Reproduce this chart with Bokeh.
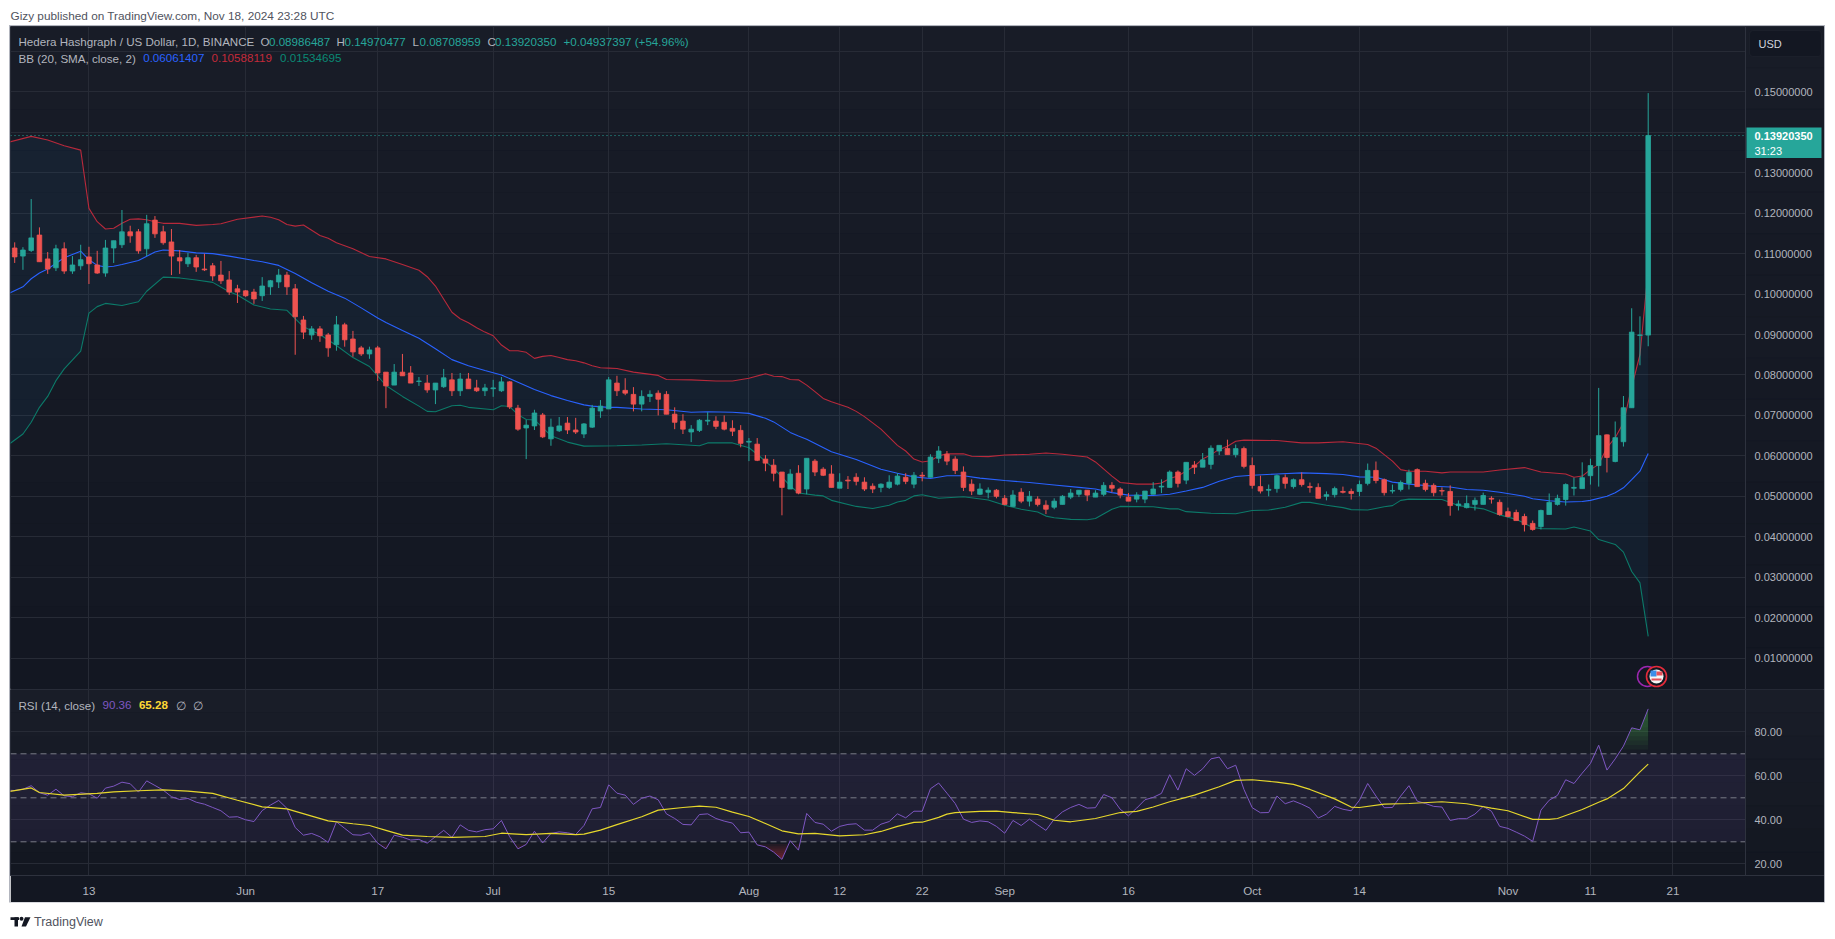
from bokeh.plotting import figure
from bokeh.layouts import column
from bokeh.models import (Range1d, FixedTicker, Label, BoxAnnotation, LinearAxis, NumeralTickFormatter)
from bokeh.embed import file_html
from bokeh.resources import INLINE
import numpy as np

# ---------- DATA (prices in thousandths of a dollar) ----------
high = [112.8,111.6,123.5,116.5,110.4,112.2,112.8,109.4,112.2,111.7,110.7,113.4,113.2,120.8,116.9,116.1,119.6,119.3,116.9,116.1,110.9,110.2,109.7,110.0,107.7,108.2,105.7,102.3,101.0,101.3,104.2,103.5,106.2,105.5,102.5,94.6,92.1,92.1,90.4,94.6,92.9,90.9,87.2,87.0,87.2,80.7,82.7,85.2,82.2,79.5,80.0,78.0,81.5,80.5,80.5,80.5,78.8,77.8,78.8,79.5,78.5,72.6,68.9,71.4,70.6,69.2,69.6,69.6,69.4,68.1,72.6,73.8,79.5,79.8,
        79.2,77.0,76.2,76.2,76.2,76.0,72.0,70.3,67.6,69.1,70.8,69.8,70.0,68.8,67.6,64.4,64.4,60.2,59.2,56.0,56.7,57.7,59.4,59.2,57.2,57.7,55.7,55.0,55.7,54.7,53.2,53.2,55.2,55.7,55.7,56.0,56.0,60.4,62.4,61.2,59.9,57.4,54.2,53.2,52.2,51.8,50.3,51.5,52.0,51.3,50.0,49.0,49.5,50.3,51.8,51.5,51.5,51.5,53.5,53.5,52.2,50.8,51.0,51.3,53.5,54.2,56.4,56.4,58.4,58.7,60.7,62.6,62.6,
        64.0,62.8,62.3,59.6,55.1,52.9,55.4,55.4,54.4,55.9,53.4,53.2,51.2,52.4,52.4,51.9,53.9,58.1,58.6,54.4,52.9,53.9,56.6,56.9,54.1,53.2,52.2,52.7,49.0,50.2,49.7,50.9,50.0,49.2,47.2,46.7,45.7,44.0,46.7,50.7,50.4,53.2,54.6,58.4,59.3,76.8,65.3,68.5,74.8,96.5,94.5,149.7]
low = [107.7,106.0,110.4,108.0,105.0,105.7,105.0,105.0,106.0,102.5,105.0,104.3,107.7,111.4,112.7,110.0,109.4,113.9,112.2,104.7,105.0,106.7,105.5,105.7,103.3,102.5,99.8,97.8,99.3,97.6,98.3,99.8,101.5,99.8,85.0,88.9,88.7,88.2,84.5,86.0,87.0,84.5,84.7,84.0,78.5,71.8,77.5,79.8,78.0,77.3,75.6,72.8,76.8,74.8,74.8,76.6,75.8,74.8,74.6,75.8,71.6,66.2,59.2,66.4,64.4,62.5,65.9,65.4,65.4,64.4,66.9,69.4,71.6,74.8,
       75.0,71.0,71.0,73.3,70.0,70.3,66.6,65.4,63.4,65.9,67.6,66.6,66.3,64.9,62.1,58.7,58.7,56.2,53.7,45.3,51.8,50.5,50.5,55.0,55.0,52.2,52.0,51.8,52.7,51.3,50.8,51.0,51.8,52.7,53.0,52.0,53.7,54.7,58.2,57.7,55.5,51.3,50.3,50.3,49.5,49.5,47.8,47.5,48.3,47.5,47.5,45.6,46.8,48.0,49.3,49.8,48.8,49.8,50.0,51.0,49.5,48.8,48.5,48.3,50.5,50.8,52.2,52.2,53.0,55.5,57.2,56.7,60.2,
       60.3,59.6,56.9,51.9,50.7,50.0,50.9,51.9,51.9,52.4,50.9,49.5,49.0,49.7,50.7,49.2,50.0,52.7,53.2,50.2,50.7,51.2,51.7,52.4,51.2,50.0,50.2,45.2,46.5,47.0,46.5,48.0,48.2,45.2,44.8,44.0,41.3,41.5,41.8,45.5,47.7,47.7,50.2,51.9,52.9,52.4,55.9,58.4,62.3,71.9,82.4,87.1]
open_ = [111.4,109.4,110.8,114.6,108.7,106.5,111.2,105.7,107.0,109.2,107.2,105.2,111.4,112.2,115.4,115.4,111.2,118.3,115.4,112.9,109.0,107.5,109.0,106.2,107.0,104.7,103.5,101.3,100.8,100.5,99.6,101.8,103.0,104.7,101.3,93.6,89.9,91.4,89.9,87.5,92.4,88.9,86.7,85.2,86.7,80.7,77.5,80.7,80.5,78.4,78.0,76.3,77.1,78.8,76.1,79.0,76.8,76.1,76.6,76.1,78.3,71.8,66.9,67.4,70.1,64.2,66.2,68.1,66.4,65.4,67.1,71.1,71.6,78.0,
         76.2,75.2,72.8,74.7,75.5,75.2,70.3,68.6,65.9,66.3,68.6,68.6,68.3,66.8,66.3,63.4,62.9,59.2,57.7,56.0,51.8,55.7,51.8,58.7,56.7,55.5,52.0,54.0,54.7,53.5,52.5,52.2,52.2,53.0,54.7,53.0,55.2,54.7,59.4,60.4,59.2,56.0,53.0,50.5,51.0,51.5,49.5,47.5,51.0,48.8,49.3,47.8,47.3,48.0,49.8,50.5,51.5,49.8,50.5,52.7,51.8,49.8,49.3,49.3,50.5,52.3,52.2,56.0,54.0,57.7,57.2,57.9,61.2,
         61.8,60.3,61.8,57.6,52.4,51.5,51.9,54.6,52.4,54.1,52.4,52.2,50.0,50.4,51.2,51.2,51.2,53.2,56.4,54.1,51.3,51.7,53.2,56.6,53.2,52.7,51.4,51.2,47.7,47.2,48.0,48.0,49.5,48.5,46.2,46.0,45.0,43.3,42.5,45.5,48.0,49.2,52.0,51.9,55.1,57.6,65.2,58.6,63.5,71.9,89.8,89.86]
close = [109.2,110.9,113.9,108.0,106.2,111.2,105.7,107.2,108.5,107.5,105.2,111.4,113.2,115.4,114.4,110.7,117.4,114.9,112.7,109.4,108.2,109.0,106.7,106.0,104.5,103.3,100.5,100.5,99.6,98.8,102.0,103.3,104.7,101.8,94.4,90.6,91.4,89.7,86.7,92.4,88.7,85.7,85.2,86.2,80.5,77.3,80.7,79.8,78.0,78.5,76.3,78.0,79.3,76.1,79.0,76.6,76.1,76.8,76.8,78.3,72.1,66.6,67.6,70.6,64.7,67.1,67.4,66.4,65.9,67.9,71.8,72.3,78.8,76.1,
         75.5,72.8,74.7,75.2,74.0,70.3,68.3,66.6,66.6,68.8,68.8,67.3,66.6,66.1,63.1,63.6,58.9,58.2,55.7,52.2,55.5,50.8,59.4,56.0,55.2,52.2,53.5,53.8,53.7,51.8,51.8,53.0,53.5,55.0,53.7,55.2,55.0,59.7,61.2,58.7,56.4,52.2,51.3,51.8,51.5,50.0,48.0,50.3,48.8,50.0,48.0,46.8,48.8,50.0,50.8,51.5,50.3,50.8,52.7,52.0,50.3,48.8,50.3,51.3,51.8,52.5,56.0,53.2,58.4,57.2,59.0,61.9,62.6,
         60.3,61.8,57.4,52.7,51.3,51.7,55.1,53.2,54.1,52.9,52.2,49.5,50.4,51.9,51.0,50.7,52.9,56.4,53.9,50.9,51.4,53.4,55.9,52.4,51.7,50.9,51.3,47.7,48.1,48.2,49.0,50.2,49.3,45.5,45.0,44.0,43.0,41.8,46.5,48.5,49.5,52.9,52.2,54.6,57.6,65.0,59.6,64.5,71.9,90.6,89.9,139.2]

upper_x = [-1,2,4,6,8,9,10,11,12,13,14,15,16,17,18,20,22,24,25,27,30,31,32,33,34,35,37,38,39,41,43,45,47,49,50,51,53,54,55,56,57,58,59,60,61,62,63,64,65,66,67,68,69,70,71,72,73,75,78,79,82,85,87,89,91,92,93,94,95,96,97,98,99,101,102,103,105,107,108,109,110,111,112,113,115,116,118,120,123,125,127,130,131,133,134,136,138,139,140,141,143,144,145,146,147,148,149,153,156,158,161,164,165,166,167,168,169,171,173,174,178,180,183,185,188,189,190,191,192,193,194,195,196,197,198]
upper_v = [137.4,139.0,138.1,136.7,135.6,121.2,117.9,116.1,116.3,117.5,118.5,118.6,118.4,117.9,117.5,117.5,117.0,117.2,117.4,118.5,119.3,119.0,118.4,117.2,116.8,117.1,114.5,113.8,112.7,111.2,109.3,108.7,107.3,105.9,104.3,102.0,95.5,93.9,92.9,91.7,90.6,89.7,87.4,86.0,86.0,85.6,84.1,84.6,84.8,84.3,83.8,83.5,83.0,82.3,81.8,81.7,81.6,80.7,79.9,78.9,78.8,78.5,78.5,79.2,80.3,79.7,79.6,78.9,78.8,77.5,75.9,74.2,73.4,72.0,71.0,69.7,66.6,62.6,61.2,59.2,58.5,58.8,60.0,60.5,60.5,59.9,59.8,60.2,60.4,60.7,60.4,59.7,58.5,55.0,53.4,53.0,53.0,53.3,54.4,55.0,57.5,59.2,60.3,61.6,62.4,63.6,63.9,63.8,63.2,63.2,63.5,62.8,61.9,60.3,58.7,56.6,56.2,56.2,55.8,56.0,56.0,56.5,57.1,56.0,55.5,54.7,55.0,56.6,57.9,62.0,64.5,68.2,77.0,85.0,105.9]
basis_x = [-1,1,2,3,4,6,8,9,10,11,12,13,15,17,18,20,22,24,26,29,30,32,34,36,38,40,42,44,45,47,49,51,53,55,57,59,61,63,65,67,69,70,72,73,76,79,82,84,87,89,91,92,94,95,96,99,102,105,107,109,111,113,115,117,120,123,126,129,131,133,135,138,140,142,144,146,148,150,153,156,159,161,163,165,167,169,172,174,176,178,180,183,184,186,188,190,191,193,194,195,196,197,198]
basis_v = [99.9,101.8,103.8,105.2,106.2,109.0,110.6,108.5,107.1,106.7,106.9,107.3,108.3,110.4,110.9,110.7,110.2,110.0,109.4,108.3,108.0,107.1,105.1,102.8,100.7,99.0,96.6,94.1,93.0,91.0,89.1,86.5,83.8,82.3,81.1,80.0,78.2,76.4,74.9,73.7,72.6,72.3,72.0,72.0,71.6,71.4,70.8,70.9,70.8,70.5,69.3,68.4,65.8,64.9,64.1,61.0,59.1,56.7,55.7,54.8,54.4,55.1,55.1,54.5,53.9,53.4,52.8,52.2,51.8,50.9,50.3,50.2,50.5,51.3,52.2,53.7,54.9,55.2,55.5,55.8,55.6,55.4,54.8,54.7,53.5,53.0,52.5,52.3,51.7,51.5,51.0,50.0,49.4,48.9,48.6,48.7,49.0,50.0,50.9,52.1,54.1,56.2,60.6]
lower_x = [-1,1,2,3,4,5,6,8,9,10,11,13,15,16,18,20,22,24,26,27,29,31,33,35,37,39,41,43,45,47,49,50,51,53,54,55,58,59,60,61,62,63,65,67,69,73,76,79,83,84,87,89,90,92,94,95,97,98,99,102,104,106,107,108,109,110,112,115,118,120,122,124,125,126,128,130,131,133,134,138,140,141,142,145,148,150,152,154,156,157,159,161,162,164,166,167,168,169,173,175,178,180,182,184,185,188,189,191,192,194,195,196,197,198]
lower_v = [62.4,65.4,68.3,72.0,74.7,78.6,81.5,85.9,95.3,96.9,97.7,97.2,98.1,100.7,104.2,104.0,103.5,102.9,100.6,99.8,97.3,96.3,96.0,91.9,90.0,87.3,84.3,82.1,77.4,74.7,72.3,71.0,70.9,72.4,72.5,72.0,71.4,72.4,72.2,70.2,69.0,68.9,65.0,63.4,62.4,62.5,62.7,63.0,62.5,63.2,63.2,62.0,60.4,56.9,52.6,50.8,50.3,50.1,49.0,47.5,47.0,47.8,48.6,49.0,50.1,50.4,49.5,49.9,49.1,47.8,46.8,46.1,45.1,44.7,44.3,44.2,44.5,46.8,47.5,47.4,46.9,46.9,46.2,45.8,45.7,46.5,46.6,47.3,48.5,48.5,47.8,47.2,46.7,46.6,47.4,47.7,49.0,49.3,49.2,47.7,46.9,45.4,44.3,42.3,42.0,41.9,42.4,41.4,39.3,38.1,36.2,31.4,28.6,15.35]

rsi_v = [53.5,53.3,53.9,55.5,52.3,51.2,53.9,50.9,50.5,52.3,51.8,49.8,54.4,55.3,57.1,56.4,52.6,57.7,55.6,53.5,50.5,49.2,49.7,48.0,47.1,45.6,44.1,41.2,41.4,40.0,39.2,44.2,46.7,48.8,45.2,36.5,33.0,33.8,32.3,29.7,39.1,36.1,33.2,33.0,34.1,29.4,26.8,33.0,32.1,30.8,31.1,29.4,32.3,35.2,32.0,37.7,35.2,34.5,35.5,35.9,39.7,32.3,26.8,28.8,34.8,29.5,33.8,34.5,34.1,33.3,37.4,45.0,45.6,55.9,52.1,
         51.2,47.0,49.8,50.8,49.1,42.7,40.6,37.9,37.7,42.4,42.7,40.6,39.4,38.5,34.1,34.4,28.6,27.7,25.3,22.0,30.5,26.2,42.9,38.8,38.0,34.8,37.0,37.9,38.2,35.3,35.3,38.0,39.2,42.7,40.9,43.9,43.9,54.1,56.7,52.1,47.4,40.3,38.8,39.5,39.1,37.0,33.9,39.7,37.4,40.3,37.7,35.2,40.3,43.6,45.6,47.0,45.3,45.5,51.5,50.0,44.8,41.8,45.3,49.1,50.2,52.0,60.5,53.5,63.2,60.2,63.2,67.7,68.5,
         63.2,64.8,53.8,45.5,43.2,43.3,50.8,47.3,48.6,47.1,45.3,40.8,42.6,46.1,44.8,44.1,48.9,56.5,50.8,45.5,45.6,50.8,55.5,48.5,47.4,46.1,45.8,39.7,40.5,40.5,42.6,46.1,43.9,37.0,36.1,34.4,32.6,30.2,44.4,48.9,51.1,58.2,56.5,61.2,65.6,73.9,62.6,67.7,73.5,81.8,80.9,90.4]
ma_x = [-1,2,3,6,10,12,15,18,21,24,27,30,33,36,38,41,43,45,47,50,53,57,59,62,65,68,69,71,73,76,78,81,83,85,87,89,91,93,95,97,100,103,105,107,109,110,112,113,114,117,119,121,124,126,128,131,134,136,138,140,143,146,148,150,153,155,157,160,162,163,166,169,173,176,179,181,184,186,187,190,192,193,195,197,198]
ma_v = [52.6,54.5,52.4,51.2,52.0,52.7,53.2,53.6,53.0,52.0,48.9,45.9,45.0,41.7,39.5,38.2,37.4,35.2,33.0,32.4,32.0,32.4,33.9,33.3,33.8,33.3,33.5,35.3,37.8,41.4,44.4,45.6,46.2,45.7,43.5,41.5,38.3,35.0,33.6,33.8,32.7,33.2,34.7,37.0,38.8,38.9,41.1,42.6,43.3,43.8,43.9,43.3,42.4,39.8,39.1,40.6,43.3,43.8,45.8,48.2,51.2,55.0,57.9,58.2,57.1,56.1,53.8,49.5,45.8,45.6,47.1,47.4,48.2,47.3,45.3,44.1,40.2,40.2,40.6,44.7,48.0,49.5,54.2,61.8,65.3]

date_ticks = [9, 28, 44, 58, 72, 89, 100, 110, 120, 135, 150, 163, 181, 191, 201]
date_labels = ["13", "Jun", "17", "Jul", "15", "Aug", "12", "22", "Sep", "16", "Oct", "14", "Nov", "11", "21"]
price_ticks = [0.15, 0.13, 0.12, 0.11, 0.10, 0.09, 0.08, 0.07, 0.06, 0.05, 0.04, 0.03, 0.02, 0.01]
price_grid = [0.16, 0.15, 0.14, 0.13, 0.12, 0.11, 0.10, 0.09, 0.08, 0.07, 0.06, 0.05, 0.04, 0.03, 0.02, 0.01]
rsi_ticks = [20, 40, 60, 80]
last_price = 0.13920350

# ---------- helpers ----------
FONT = "Liberation Sans"
UP, DOWN = "#26a69a", "#ef5350"
BASIS, UPPER, LOWER = "#2962ff", "#b8293b", "#0c7a69"
GRID = "#272b36"
AXIS_LINE = "#2e323e"
TXT = "#b2b5be"
H_MAIN, H_RSI = 663, 186
X_L, X_AX, X_R = 10, 1745, 1824
Y_TOP, Y_DIV, Y_AX, Y_BOT = 27, 690, 876, 903

def fx(px):           # page px -> candle index
    return (px - 14.2) / 8.25
def fp(py):           # page py -> price
    return 0.15 - (py - 92.4) / 4044.0
def fr(py):           # page py -> RSI
    return 80 - (py - 732.3) / 2.2

idx = np.arange(len(close))
O, H, L, C = [np.array(a) / 1000 for a in (open_, high, low, close)]
colors = [UP if c >= o else DOWN for o, c in zip(O, C)]

def base_fig(h, yr, bottom):
    # the frame spans the price scale too; the y axis sits at a fixed spot inside it
    p = figure(frame_width=X_R - X_L, frame_height=h, x_range=Range1d(fx(X_L), fx(X_R)), y_range=yr,
               output_backend="svg", toolbar_location=None, x_axis_location=None, y_axis_location="right",
               min_border_left=0, min_border_right=0, min_border_top=0, min_border_bottom=bottom)
    p.border_fill_color = "#131722"
    p.background_fill_color = "#131722"
    p.outline_line_color = AXIS_LINE
    p.xgrid.ticker = FixedTicker(ticks=date_ticks)
    p.xgrid.grid_line_color = GRID
    p.ygrid.grid_line_color = GRID
    ax = p.yaxis[0]
    ax.fixed_location = fx(X_AX)
    ax.major_tick_line_color = None
    ax.minor_tick_line_color = None
    ax.major_tick_out = 0
    ax.axis_line_color = AXIS_LINE
    ax.major_label_text_color = TXT
    ax.major_label_text_font = FONT
    ax.major_label_text_font_size = "11px"
    ax.major_label_standoff = 9
    return p

def gradient(p, y_top, y_bot, to_y, c_top, c_bot, n=16):
    c0, c1 = np.array(c_top), np.array(c_bot)
    edges = np.linspace(y_top, y_bot, n + 1)
    for i in range(n):
        t = i / (n - 1)
        col = "#%02x%02x%02x" % tuple(int(round(v)) for v in (c0 + (c1 - c0) * t))
        top, bot = to_y(edges[i]), to_y(edges[i + 1])
        p.add_layout(BoxAnnotation(left=fx(X_L), right=fx(X_AX), top=top, bottom=bot,
                                   fill_color=col, fill_alpha=1, line_color=None, level="image"))
        # the price-scale column covers the grid lines
        p.quad(left=[fx(X_AX)], right=[fx(X_R)], top=[top], bottom=[bot], fill_color=col, line_color=col, line_width=0.5)

def text(p, s, px, py, to_y, color=TXT, size="11.6px", style="normal", align="left"):
    p.add_layout(Label(x=fx(px), y=to_y(py), text=s, text_color=color, text_font=FONT, text_font_size=size,
                       text_baseline="middle", text_align=align, text_font_style=style))

# ---------- price pane ----------
p = base_fig(H_MAIN, Range1d(fp(Y_DIV), fp(Y_TOP)), 0)
gradient(p, Y_TOP, Y_DIV, fp, (24, 28, 39), (19, 23, 34))
p.yaxis[0].ticker = FixedTicker(ticks=price_ticks)
p.yaxis[0].formatter = NumeralTickFormatter(format="0.00000000")
p.ygrid.ticker = FixedTicker(ticks=price_grid)

up_x = list(upper_x) + list(lower_x)[::-1]
up_y = list(np.array(upper_v) / 1000) + list(np.array(lower_v) / 1000)[::-1]
p.patch(up_x, up_y, fill_color="#2196f3", fill_alpha=0.06, line_color=None)
p.line(upper_x, np.array(upper_v) / 1000, line_color=UPPER, line_width=1.1)
p.line(lower_x, np.array(lower_v) / 1000, line_color=LOWER, line_width=1.1)
p.line(basis_x, np.array(basis_v) / 1000, line_color=BASIS, line_width=1.1)

p.segment([fx(X_L)], [last_price], [fx(X_AX)], [last_price], line_color=UP, line_dash="1 3", line_width=1)
p.segment(idx, H, idx, L, line_color=colors, line_width=1)
p.vbar(idx, 0.56, np.maximum(O, C), np.minimum(O, C), fill_color=colors, line_color=colors, line_width=0.8)

# event bubbles
p.scatter([fx(1647)], [fp(677)], size=20, fill_color="#131722", line_color="#9c27b0", line_width=1.5)
p.scatter([fx(1656)], [fp(677)], size=20, fill_color="#131722", line_color="#e52b3a", line_width=1.6)
p.scatter([fx(1656)], [fp(677)], size=14, fill_color="#f5f5f5", line_color=None)
p.quad(left=[fx(1650)], right=[fx(1656)], top=[fp(671)], bottom=[fp(677)], fill_color="#3b8ee8", line_color=None)
p.quad(left=[fx(1656)], right=[fx(1662)], top=[fp(672)], bottom=[fp(676)], fill_color="#e4505a", line_color=None)
p.quad(left=[fx(1651)], right=[fx(1661)], top=[fp(679)], bottom=[fp(681)], fill_color="#e4505a", line_color=None)

# price tag & USD button
p.quad(left=[fx(1746)], right=[fx(1821)], top=[fp(128)], bottom=[fp(158.5)], fill_color=UP, line_color=None)
text(p, "0.13920350", 1754, 136.6, fp, "#ffffff", size="11px", style="bold")
text(p, "31:23", 1754, 151, fp, "#ffffff", size="11px")
p.add_layout(BoxAnnotation(left=fx(1749), right=fx(1821), top=fp(31), bottom=fp(57), fill_color="#131722", fill_alpha=1,
                           line_color="#2a2e39", line_width=1.2, border_radius=4, level="annotation"))
text(p, "USD", 1758, 44.5, fp, "#d1d4dc", size="11px")

# legends
text(p, "Hedera Hashgraph / US Dollar, 1D, BINANCE", 18, 42, fp)
for s, xp, col in [("O", 260, TXT), ("0.08986487", 268.5, UP), ("H", 336, TXT), ("0.14970477", 344, UP),
                   ("L", 412, TXT), ("0.08708959", 419, UP), ("C", 487, TXT), ("0.13920350", 494.6, UP),
                   ("+0.04937397 (+54.96%)", 563, UP)]:
    text(p, s, xp, 42, fp, col)
text(p, "BB (20, SMA, close, 2)", 18, 58.7, fp)
text(p, "0.06061407", 142.7, 58.7, fp, BASIS)
text(p, "0.10588119", 211, 58.7, fp, "#c42a3a")
text(p, "0.01534695", 279.6, 58.7, fp, "#0a8a75")

# ---------- RSI pane ----------
r = base_fig(H_RSI, Range1d(fr(Y_AX), fr(Y_DIV)), Y_BOT - Y_AX)
gradient(r, Y_DIV, Y_AX, fr, (25, 29, 40), (19, 23, 33), n=8)
r.yaxis[0].ticker = FixedTicker(ticks=rsi_ticks)
r.yaxis[0].formatter = NumeralTickFormatter(format="0.00")
r.ygrid.ticker = FixedTicker(ticks=rsi_ticks)
xax = LinearAxis(ticker=FixedTicker(ticks=date_ticks),
                 major_label_overrides=dict(zip(date_ticks, date_labels)))
xax.major_tick_line_color = None
xax.minor_tick_line_color = None
xax.major_tick_out = 0
xax.axis_line_color = AXIS_LINE
xax.major_label_text_color = TXT
xax.major_label_text_font = FONT
xax.major_label_text_font_size = "11.6px"
xax.major_label_standoff = 8
r.add_layout(xax, "below")

r.quad(left=[fx(X_L)], right=[fx(X_AX)], top=[70], bottom=[30], fill_color="#7e57c2", fill_alpha=0.1, line_color=None)
for lv in (30, 50, 70):
    r.segment([fx(X_L)], [lv], [fx(X_AX)], [lv], line_color="#787b86", line_dash="6 4", line_width=1)

rsi_x = np.arange(-1, len(rsi_v) - 1)
fine_x = np.arange(-1, len(rsi_v) - 2 + 0.001, 0.05)
fine_y = np.interp(fine_x, rsi_x, rsi_v)
for lev in (72, 74, 76, 78, 80, 82, 85):        # layered fill fades toward the 70 line
    r.varea(fine_x, np.full_like(fine_x, float(lev)), np.maximum(fine_y, lev), fill_color="#4caf50", fill_alpha=0.065)
for lev in (29, 28, 27, 26, 25, 24):
    r.varea(fine_x, np.full_like(fine_x, float(lev)), np.minimum(fine_y, lev), fill_color="#f23645", fill_alpha=0.07)
r.line(rsi_x, rsi_v, line_color="#7e57c2", line_width=1)
r.line(ma_x, ma_v, line_color="#e6d72c", line_width=1.2)

text(r, "RSI (14, close)", 18, 705.7, fr)
text(r, "90.36", 102, 705.7, fr, "#7e57c2")
text(r, "65.28", 138.4, 705.7, fr, "#fdd835", style="bold")
text(r, "\u2205", 175, 705.7, fr)
text(r, "\u2205", 192, 705.7, fr)

chart = column(p, r, spacing=0, margin=(0, 0, 0, X_L), styles={"box-shadow": "0 0 0 1px #b2b5be"})

# ---------- header / footer strips ----------
def strip(h):
    s = figure(width=1825, height=h, x_range=Range1d(0, 1825), y_range=Range1d(h, 0), output_backend="svg",
               toolbar_location=None, x_axis_type=None, y_axis_type=None, min_border=0)
    s.outline_line_color = None
    s.grid.visible = False
    s.border_fill_color = "#ffffff"
    s.background_fill_color = "#ffffff"
    return s

head = strip(Y_TOP - 1)
head.add_layout(Label(x=10, y=15, text="Gizy published on TradingView.com, Nov 18, 2024 23:28 UTC", text_color="#50535e",
                      text_font=FONT, text_font_size="11.8px", text_baseline="middle"))

foot = strip(32)
foot.quad(left=[10], right=[18.5], top=[14.7], bottom=[17.6], fill_color="#131722", line_color=None)
foot.quad(left=[14], right=[17.5], top=[14.7], bottom=[24], fill_color="#131722", line_color=None)
foot.scatter([21], [16.2], size=4, fill_color="#131722", line_color=None)
foot.patch([24.5, 30, 25.5, 21], [14.7, 14.7, 24, 24], fill_color="#131722", line_color=None)
foot.add_layout(Label(x=33.5, y=19, text="TradingView", text_color="#50535e", text_font=FONT, text_font_size="12.5px",
                      text_baseline="middle"))

page = column(head, chart, foot, spacing=0)
open("out.html", "w").write(file_html(page, INLINE))
